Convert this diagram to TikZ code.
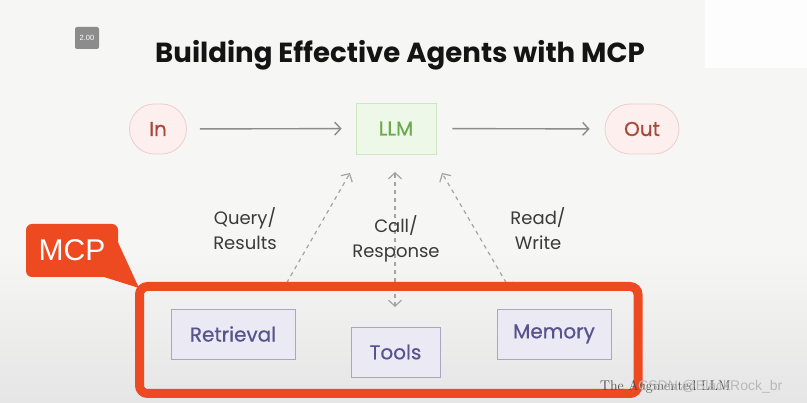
\documentclass[tikz,border=0pt]{standalone}
\usepackage{fontspec}
\newfontfamily\pop{Poppins}
\newfontfamily\popm{Poppins}[FakeBold=0.6]
\newfontfamily\arialf{Liberation Sans}
\usetikzlibrary{arrows.meta,shapes.misc}
\definecolor{bgc}{HTML}{F6F6F5}
\definecolor{pinkf}{HTML}{FCEFED}
\definecolor{pinkd}{HTML}{EDCFCA}
\definecolor{pinkt}{HTML}{A6473A}
\definecolor{greenf}{HTML}{EEF8E8}
\definecolor{greend}{HTML}{CDE6C0}
\definecolor{greent}{HTML}{6CA84C}
\definecolor{lavf}{HTML}{EBEAF4}
\definecolor{lavd}{HTML}{A8A6C4}
\definecolor{lavt}{HTML}{56538E}
\definecolor{mcpred}{HTML}{EE4A22}
\definecolor{arrowc}{HTML}{8C8C8C}
\definecolor{dashc}{HTML}{A4A4A4}
\definecolor{labt}{HTML}{3A3A3A}
\tikzset{
  pill/.style={rounded rectangle, draw=pinkd, fill=pinkf, line width=0.8pt,
    minimum height=50pt, text=pinkt, font=\popm\fontsize{20}{22}\selectfont, inner sep=0pt},
  llmbox/.style={rectangle, draw=greend, fill=greenf, line width=0.8pt,
    minimum width=80pt, minimum height=51pt, text=greent, font=\popm\fontsize{20}{22}\selectfont},
  compbox/.style={rectangle, draw=lavd, fill=lavf, line width=0.9pt,
    minimum height=50pt, text=lavt, font=\popm\fontsize{20}{22}\selectfont},
  flow/.style={draw=arrowc, line width=1.4pt, -{Straight Barb[length=6pt,width=13pt]}},
  dashflow/.style={draw=dashc, line width=1.2pt, dash pattern=on 4pt off 4pt,
    {Straight Barb[length=6pt,width=13pt]}-{Straight Barb[length=6pt,width=13pt]}},
  lab/.style={align=center, text=labt, font=\pop\fontsize{18}{25}\selectfont},
  wmark/.style={anchor=west, inner sep=0pt, font=\arialf\fontsize{14}{14}\selectfont},
}
\begin{document}
\begin{tikzpicture}[x=1pt,y=-1pt]
\useasboundingbox (0,0) rectangle (807,403);
% background
\fill[bgc] (0,0) rectangle (807,403);
\shade[top color=bgc, bottom color=black!10] (0,250) rectangle (807,403);
\fill[white, opacity=0.85] (705,0) rectangle (807,68);
% badge
\node[fill=black!45, rounded corners=2pt, minimum width=24pt, minimum height=22pt,
  text=white, inner sep=0pt, font=\arialf\fontsize{7.5}{7.5}\selectfont] (badge) at (87,38) {2.00};
% title
\node[text=black!92, inner sep=0pt] (title) at (400,55)
  {\pop\bfseries\fontsize{27.6}{32}\selectfont Building Effective Agents with MCP};
% top row
\node[pill, minimum width=57pt] (in) at (158,129) {In};
\node[llmbox] (llm) at (396,128.5) {LLM};
\node[pill, minimum width=74pt] (out) at (642,129) {Out};
\draw[flow, shorten <=13pt, shorten >=14pt] (in) -- (llm);
\draw[flow, shorten <=16pt, shorten >=15pt] (llm) -- (out);
% components
\node[compbox, minimum width=124pt] (retr) at (233,334) {Retrieval};
\node[compbox, minimum width=89pt] (tools) at (395.5,352) {Tools};
\node[compbox, minimum width=114pt] (mem) at (554,334) {Memory};
% dashed connectors
\coordinate (c1t) at (350,173); \coordinate (c1b) at (282,291);
\coordinate (c2t) at (395,172); \coordinate (c2b) at (395,307);
\coordinate (c3t) at (442,173); \coordinate (c3b) at (511,291);
\draw[dashflow] (c1b) -- (c1t);
\draw[dashflow] (c2b) -- (c2t);
\draw[dashflow] (c3b) -- (c3t);
% labels
\node[lab] (l1) at (245,229) {Query/\\Results};
\node[lab] (l2) at (396,239) {Call/\\Response};
\node[lab] (l3) at (538,229) {Read/\\Write};
% MCP frame
\draw[mcpred, line width=9pt, rounded corners=8pt] (139.5,286.5) rectangle (638,393.5);
\fill[mcpred] (116,238) -- (139,288) -- (104,277) -- cycle;
\node[fill=mcpred, rounded corners=6pt, minimum width=92pt, minimum height=53pt,
  text=white, inner sep=0pt, font=\arialf\fontsize{30}{30}\selectfont] (mcp) at (72,250.5) {MCP};
% watermark
\node[anchor=west, inner sep=0pt, text=black!70, font=\fontsize{14}{14}\selectfont] (wm1) at (600,387) {The Augmented LLM};
\node[wmark, text=black!28] (wm2) at (638,387) {CSDN @BlackRock\_br};
\end{tikzpicture}
\end{document}
